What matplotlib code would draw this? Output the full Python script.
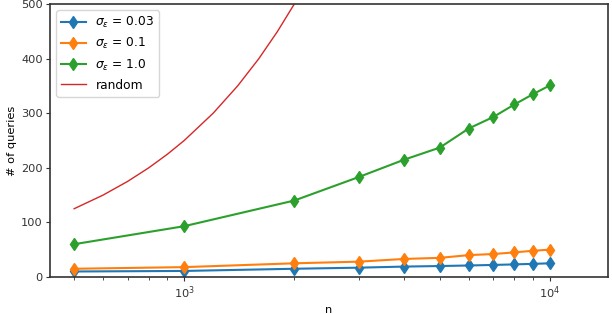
import matplotlib
matplotlib.use("Agg")
import matplotlib.pyplot as plt

# data
n = [500, 1000, 2000, 3000, 4000, 5000, 6000, 7000, 8000, 9000, 10000]
q_003 = [10, 11, 15, 17, 19, 20, 21, 22, 23, 24, 25]
q_01 = [15, 18, 25, 28, 33, 35, 40, 42, 45, 48, 50]
q_10 = [60, 93, 140, 183, 215, 237, 272, 293, 316, 335, 351]

n_random = [500, 600, 700, 800, 900, 1000, 1200, 1400, 1600, 1800, 2000, 2200]
q_random = [125, 150, 175, 200, 225, 250, 300, 350, 400, 450, 500, 550]

plt.rcParams["font.size"] = 8.2
plt.rcParams["xtick.major.size"] = 2.8
plt.rcParams["ytick.major.size"] = 2.8
plt.rcParams["xtick.minor.size"] = 1.8
plt.rcParams["xtick.major.pad"] = 2.5
plt.rcParams["ytick.major.pad"] = 2.5
plt.rcParams["axes.labelpad"] = 3

fig, ax = plt.subplots(figsize=(6.12, 3.14), dpi=100)

ax.plot(n, q_003, color="#1f77b4", marker="d", markersize=6, lw=1.5, label=r"$\sigma_\epsilon$ = 0.03")
ax.plot(n, q_01, color="#ff7f0e", marker="d", markersize=6, lw=1.5, label=r"$\sigma_\epsilon$ = 0.1")
ax.plot(n, q_10, color="#2ca02c", marker="d", markersize=6, lw=1.5, label=r"$\sigma_\epsilon$ = 1.0")
ax.plot(n_random, q_random, color="#d62728", lw=1, label="random")

ax.set_xscale("log")
ax.set_xlim(430, 14400)
ax.set_ylim(0, 500)
ax.set_xlabel("n")
ax.set_ylabel("# of queries")

for s in ax.spines.values():
    s.set_color("#333333")
    s.set_linewidth(1.2)
ax.tick_params(which="both", colors="#333333")

ax.legend(loc="upper left", fontsize=8.8)

fig.subplots_adjust(left=0.082, right=0.993, top=0.987, bottom=0.118)
fig.savefig("out.png")
